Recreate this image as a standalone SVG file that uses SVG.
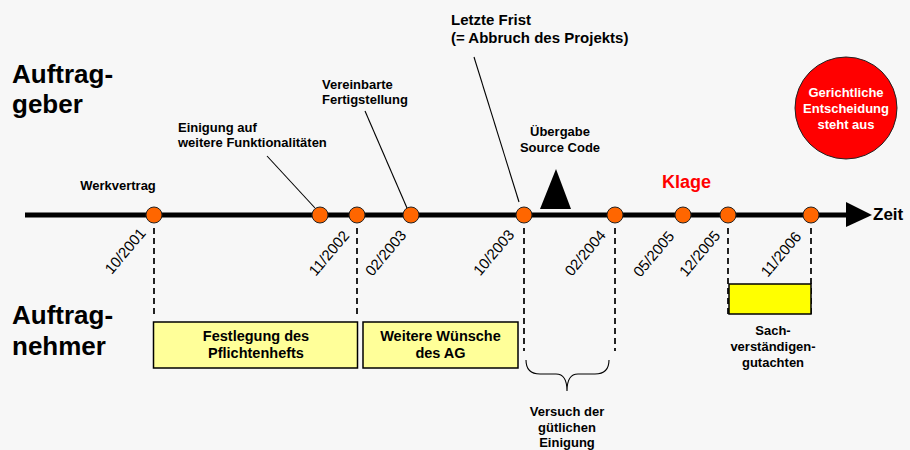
<svg xmlns="http://www.w3.org/2000/svg" width="910" height="450" viewBox="0 0 910 450">
<style>
text{font-family:"Liberation Sans",Arial,sans-serif;fill:#000}
.b{font-weight:bold}
.lbl{font-size:13px;font-weight:bold}
.big{font-size:26px;font-weight:bold}
.date{font-size:15px;text-anchor:end}
.dot{fill:#ff6600;stroke:#222;stroke-width:1}
.dash{stroke:#222;stroke-width:2;stroke-dasharray:6,4;fill:none}
.call{stroke:#000;stroke-width:1.1;fill:none}
.box{fill:#ffff99;stroke:#000;stroke-width:1.5}
.bt{font-size:14.5px;font-weight:bold;text-anchor:middle}
.c{text-anchor:middle}
</style>
<rect width="910" height="450" fill="#f7f7f7"/>

<g id="side-labels">
<text class="big" x="12" y="83">Auftrag-</text>
<text class="big" x="12" y="113">geber</text>
<text class="big" x="12" y="324">Auftrag-</text>
<text class="big" x="12" y="355">nehmer</text>
</g>

<g id="connectors">
<line x1="25" y1="215" x2="848" y2="215" stroke="#000" stroke-width="5"/>
<polygon points="846,202 872,215 846,227" fill="#000"/>
<line class="call" x1="267" y1="156" x2="315" y2="208"/>
<line class="call" x1="365" y1="111" x2="407" y2="208"/>
<line class="call" x1="474" y1="57" x2="519" y2="202"/>
<line class="dash" x1="154" y1="228" x2="154" y2="315"/>
<line class="dash" x1="357" y1="228" x2="357" y2="315"/>
<line class="dash" x1="524" y1="228" x2="524" y2="351"/>
<line class="dash" x1="615" y1="228" x2="615" y2="351"/>
<line class="dash" x1="728" y1="228" x2="728" y2="315"/>
<line class="dash" x1="811" y1="228" x2="811" y2="315"/>
<path class="call" stroke-width="1.3" d="M526,360 Q526,374 540,374 L556,374 Q567,374 567,391 Q567,374 578,374 L595,374 Q609,374 609,360"/>
</g>

<g id="time-label"><text class="b" x="873" y="220" font-size="17">Zeit</text></g>

<g id="m2001"><circle class="dot" cx="154" cy="215" r="8"/>
<text class="lbl c" x="118" y="190">Werkvertrag</text>
<text class="date" transform="translate(146.5,233.5) rotate(-50)">10/2001</text></g>

<g id="m2002a"><circle class="dot" cx="320" cy="215" r="8"/>
<text class="lbl" x="178" y="132">Einigung auf</text>
<text class="lbl" x="178" y="147">weitere Funktionalitäten</text></g>

<g id="m2002b"><circle class="dot" cx="357" cy="215" r="8"/>
<text class="date" transform="translate(350,236) rotate(-50)">11/2002</text></g>

<g id="m2003a"><circle class="dot" cx="411" cy="215" r="8"/>
<text class="lbl" x="322" y="89">Vereinbarte</text>
<text class="lbl" x="322" y="104">Fertigstellung</text>
<text class="date" transform="translate(407,235.5) rotate(-50)">02/2003</text></g>

<g id="m2003b"><circle class="dot" cx="524" cy="215" r="8"/>
<text class="b" font-size="15" x="451" y="25">Letzte Frist</text>
<text class="b" font-size="15" x="451" y="43">(= Abbruch des Projekts)</text>
<text class="date" transform="translate(515,235) rotate(-50)">10/2003</text></g>

<g id="uebergabe"><polygon points="556,169 540,209 571,209" fill="#000"/>
<text class="lbl c" x="560" y="136">Übergabe</text>
<text class="lbl c" x="560" y="152">Source Code</text></g>

<g id="m2004"><circle class="dot" cx="615" cy="215" r="8"/>
<text class="date" transform="translate(606.5,235.5) rotate(-50)">02/2004</text></g>

<g id="m2005a"><circle class="dot" cx="683" cy="215" r="8"/>
<text class="date" transform="translate(675,236.5) rotate(-50)">05/2005</text></g>

<g id="m2005b"><circle class="dot" cx="728" cy="215" r="8"/>
<text class="date" transform="translate(721,236) rotate(-50)">12/2005</text></g>

<g id="m2006"><circle class="dot" cx="811" cy="215" r="8"/>
<text class="date" transform="translate(802,237) rotate(-50)">11/2006</text></g>

<g id="klage"><text class="b" x="662" y="188" font-size="18" style="fill:#ff0000">Klage</text></g>

<g id="entscheidung"><circle cx="846" cy="108" r="51" fill="#ff0000" stroke="#222" stroke-width="1"/>
<text class="lbl c" x="846" y="97" style="fill:#fff">Gerichtliche</text>
<text class="lbl c" x="846" y="113" style="fill:#fff">Entscheidung</text>
<text class="lbl c" x="846" y="129" style="fill:#fff">steht aus</text></g>

<g id="pflichtenheft"><rect class="box" x="153.5" y="322" width="204" height="46"/>
<text class="bt" x="256" y="341">Festlegung des</text>
<text class="bt" x="256" y="358">Pflichtenhefts</text></g>

<g id="wuensche"><rect class="box" x="363" y="322" width="155" height="46"/>
<text class="bt" x="440.5" y="341">Weitere Wünsche</text>
<text class="bt" x="440.5" y="358">des AG</text></g>

<g id="einigung"><text class="lbl c" x="567" y="416">Versuch der</text>
<text class="lbl c" x="567" y="432">gütlichen</text>
<text class="lbl c" x="567" y="447">Einigung</text></g>

<g id="gutachten"><rect x="729" y="284" width="82" height="30" fill="#ffff00" stroke="#000" stroke-width="1.5"/>
<text class="lbl c" x="773" y="335">Sach-</text>
<text class="lbl c" x="773" y="351">verständigen-</text>
<text class="lbl c" x="773" y="367">gutachten</text></g>
</svg>
